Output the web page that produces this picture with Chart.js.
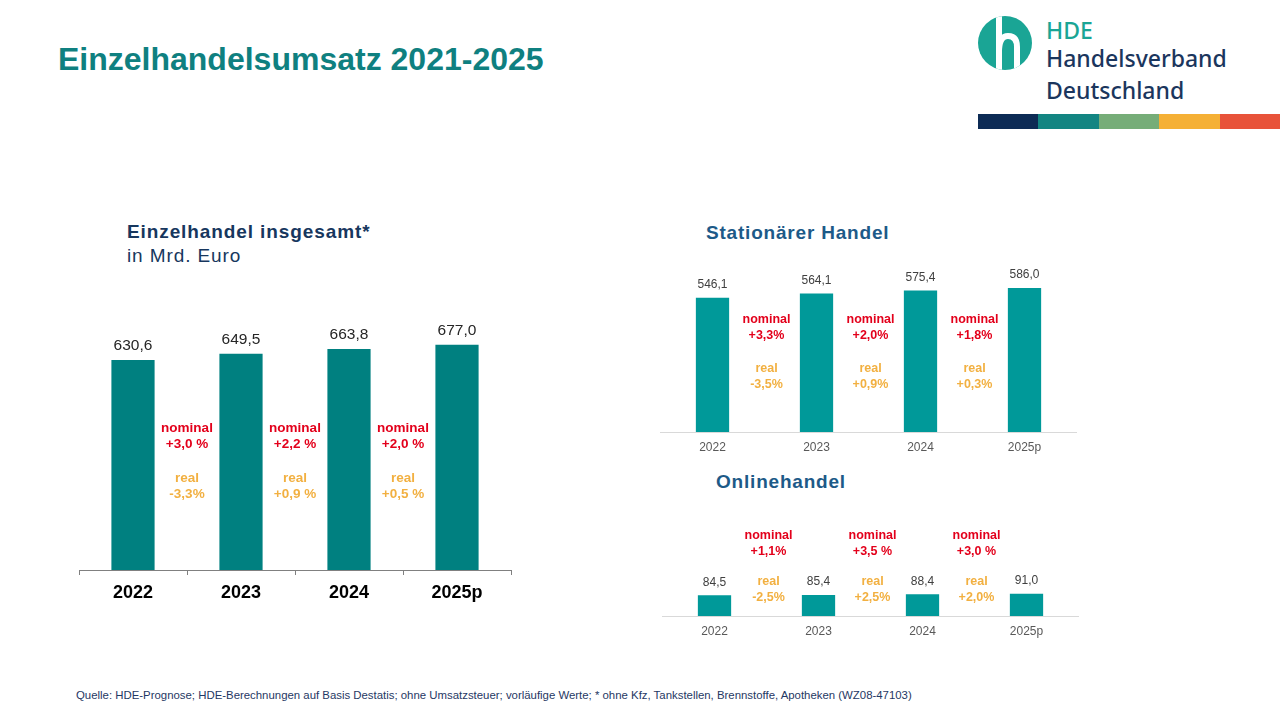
<!DOCTYPE html>
<html lang="de">
<head>
<meta charset="utf-8">
<title>Einzelhandelsumsatz 2021-2025</title>
<script src="https://cdn.jsdelivr.net/npm/chart.js@4.4.1/dist/chart.umd.min.js"></script>
<style>
  html, body { margin: 0; padding: 0; background: #fff; }
  body { width: 1280px; height: 720px; position: relative; overflow: hidden; font-family: "Liberation Sans", Arial, sans-serif; }
  .abs { position: absolute; white-space: nowrap; line-height: 1; }
  canvas { position: absolute; }
  .title { left: 58px; top: 43px; font-size: 32px; font-weight: bold; color: #0f8080; }
  .sub { left: 127px; font-size: 19px; letter-spacing: 0.9px; color: #17375e; }
  .panel { font-size: 19px; letter-spacing: 0.8px; font-weight: bold; color: #1d5a88; }
  .logo-txt { left: 1046px; font-family: "Noto Sans", sans-serif; font-weight: 500; font-size: 23px; color: #1b365d; }
  .stripe { position: absolute; top: 114px; height: 15px; }
  .note { left: 76px; top: 690px; font-size: 11.4px; color: #1f3864; }
</style>
</head>
<body>

<div class="abs title">Einzelhandelsumsatz 2021-2025</div>

<svg class="abs" style="left:975px;top:14px" width="60" height="60" viewBox="0 0 60 60">
  <defs><clipPath id="c"><circle cx="30" cy="29" r="27"/></clipPath></defs>
  <circle cx="30" cy="29" r="27" fill="#1aa595"/>
  <g clip-path="url(#c)" fill="none" stroke="#fff" stroke-width="6">
    <path d="M24 0 L24 60"/>
    <path d="M24 38 Q24 22 33 22 Q42 22 42 33 L42 60"/>
  </g>
</svg>
<div class="abs logo-txt" style="top:19px;color:#1aa595">HDE</div>
<div class="abs logo-txt" style="top:47px">Handelsverband</div>
<div class="abs logo-txt" style="top:79px">Deutschland</div>
<div class="stripe" style="left:978px;width:61px;background:#0d2b55"></div>
<div class="stripe" style="left:1038px;width:61px;background:#138582"></div>
<div class="stripe" style="left:1099px;width:61px;background:#76ad78"></div>
<div class="stripe" style="left:1159px;width:61px;background:#f5b035"></div>
<div class="stripe" style="left:1220px;width:60px;background:#e8533a"></div>

<div class="abs sub" style="top:222px;font-weight:bold">Einzelhandel insgesamt*</div>
<div class="abs sub" style="top:246px">in Mrd. Euro</div>
<div class="abs panel" style="left:706px;top:223px">Stationärer Handel</div>
<div class="abs panel" style="left:716px;top:472px">Onlinehandel</div>

<canvas id="total" width="470" height="320" style="left:60px;top:300px"></canvas>
<canvas id="store" width="460" height="210" style="left:640px;top:255px"></canvas>
<canvas id="online" width="460" height="150" style="left:640px;top:500px"></canvas>

<div class="abs note">Quelle: HDE-Prognose; HDE-Berechnungen auf Basis Destatis; ohne Umsatzsteuer; vorläufige Werte; * ohne Kfz, Tankstellen, Brennstoffe, Apotheken (WZ08-47103)</div>

<script>
// Umsatz in Mrd. Euro
const years = ['2022', '2023', '2024', '2025p'];
const totalSales = [630.6, 649.5, 663.8, 677.0];
const storeSales = [546.1, 564.1, 575.4, 586.0];
const onlineSales = [84.5, 85.4, 88.4, 91.0];

// Veränderung zum Vorjahr
const totalNominal = ['+3,0 %', '+2,2 %', '+2,0 %'];
const totalReal = ['-3,3%', '+0,9 %', '+0,5 %'];
const storeNominal = ['+3,3%', '+2,0%', '+1,8%'];
const storeReal = ['-3,5%', '+0,9%', '+0,3%'];
const onlineNominal = ['+1,1%', '+3,5 %', '+3,0 %'];
const onlineReal = ['-2,5%', '+2,5%', '+2,0%'];

Chart.defaults.font.family = '"Liberation Sans", Arial, sans-serif';

const fmt = (v) => v.toFixed(1).replace('.', ',');

// Werte über den Balken
const barValues = {
  id: 'barValues',
  afterDatasetsDraw(chart, args, opts) {
    const { ctx } = chart;
    const meta = chart.getDatasetMeta(0);
    ctx.save();
    ctx.font = `${opts.size}px "Liberation Sans", Arial, sans-serif`;
    ctx.fillStyle = opts.color;
    ctx.textAlign = 'center';
    ctx.textBaseline = 'middle';
    meta.data.forEach((bar, i) => {
      ctx.fillText(fmt(chart.data.datasets[0].data[i]), bar.x, bar.y - opts.offset);
    });
    ctx.restore();
  },
};

// nominal / real zwischen den Balken
const growthNotes = {
  id: 'growthNotes',
  afterDatasetsDraw(chart, args, opts) {
    const { ctx, scales: { x, y } } = chart;
    ctx.save();
    ctx.font = `bold ${opts.size}px "Liberation Sans", Arial, sans-serif`;
    ctx.textAlign = 'center';
    ctx.textBaseline = 'middle';
    opts.nominal.forEach((txt, i) => {
      const cx = (x.getPixelForValue(i) + x.getPixelForValue(i + 1)) / 2 + opts.shift;
      const ny = y.getPixelForValue(opts.nominalAt);
      const ry = y.getPixelForValue(opts.realAt);
      ctx.fillStyle = '#e3001b';
      ctx.fillText('nominal', cx, ny);
      ctx.fillText(txt, cx, ny + opts.gap);
      ctx.fillStyle = '#f2b041';
      ctx.fillText('real', cx, ry);
      ctx.fillText(opts.real[i], cx, ry + opts.gap);
    });
    ctx.restore();
  },
};

const makeChart = (id, values, cfg) => new Chart(document.getElementById(id), {
  type: 'bar',
  data: {
    labels: years,
    datasets: [{
      data: values,
      backgroundColor: cfg.barColor,
      barPercentage: 1,
      categoryPercentage: cfg.barShare,
    }],
  },
  options: {
    responsive: false,
    animation: false,
    devicePixelRatio: 1,
    layout: { padding: cfg.padding },
    plugins: {
      legend: { display: false },
      tooltip: { enabled: false },
      barValues: cfg.values,
      growthNotes: cfg.notes,
    },
    scales: {
      x: {
        grid: {
          offset: true,
          drawOnChartArea: false,
          drawTicks: cfg.tickMarks,
          tickLength: 5,
          color: cfg.axisColor,
        },
        border: { color: cfg.axisColor, width: 1 },
        ticks: {
          color: cfg.tickColor,
          padding: cfg.tickPadding,
          font: { size: cfg.tickSize, weight: cfg.tickWeight },
        },
        afterFit(scale) { scale.height = cfg.axisHeight; },
      },
      y: { display: false, min: 0, max: cfg.yMax },
    },
  },
  plugins: [barValues, growthNotes],
});

makeChart('total', totalSales, {
  barColor: '#008080',
  barShare: 0.4,
  padding: { left: 19, right: 19, top: 17, bottom: 0 },
  axisColor: '#808080',
  tickMarks: true,
  tickColor: '#000',
  tickPadding: 7,
  tickSize: 18,
  tickWeight: 'bold',
  axisHeight: 50,
  yMax: 760,
  values: { size: 15.5, color: '#262626', offset: 14 },
  notes: { nominal: totalNominal, real: totalReal, nominalAt: 427, realAt: 276, gap: 16, size: 13.5, shift: 0 },
});

makeChart('store', storeSales, {
  barColor: '#009999',
  barShare: 0.32,
  padding: { left: 20.5, right: 23.5, top: 5, bottom: 0 },
  axisColor: '#d9d9d9',
  tickMarks: false,
  tickColor: '#595959',
  tickPadding: 8,
  tickSize: 12,
  tickWeight: 'normal',
  axisHeight: 33,
  yMax: 700,
  values: { size: 12, color: '#404040', offset: 13 },
  notes: { nominal: storeNominal, real: storeReal, nominalAt: 456, realAt: 260, gap: 16, size: 12.5, shift: 2 },
});

makeChart('online', onlineSales, {
  barColor: '#009999',
  barShare: 0.32,
  padding: { left: 22.5, right: 21.5, top: 18, bottom: 0 },
  axisColor: '#d9d9d9',
  tickMarks: false,
  tickColor: '#595959',
  tickPadding: 8,
  tickSize: 12,
  tickWeight: 'normal',
  axisHeight: 34,
  yMax: 400,
  values: { size: 12, color: '#404040', offset: 13 },
  notes: { nominal: onlineNominal, real: onlineReal, nominalAt: 330, realAt: 139, gap: 16, size: 12.5, shift: 2 },
});
</script>
</body>
</html>
